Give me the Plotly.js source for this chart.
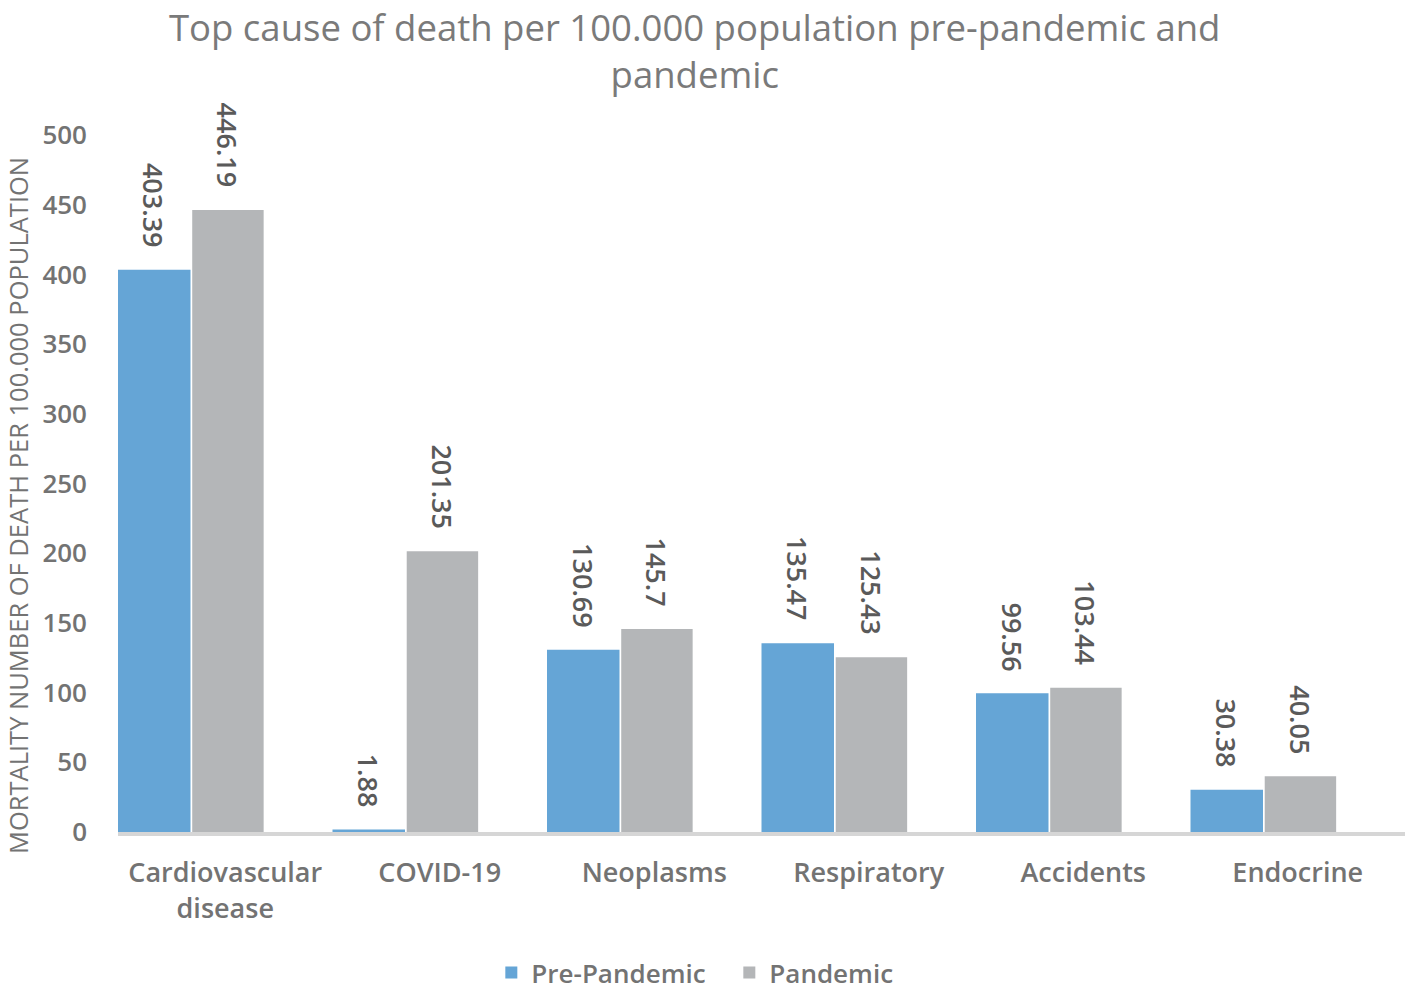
<!DOCTYPE html>
<html>
<head>
<meta charset="utf-8">
<script src="https://cdn.plot.ly/plotly-3.0.1.min.js"></script>
<style>
  html, body { margin: 0; padding: 0; background: #fff; }
  #chart { width: 1408px; height: 996px; }
</style>
</head>
<body>
<div id="chart"></div>
<script>
  // Values
  var categories = ['Cardiovascular<br>disease', 'COVID-19', 'Neoplasms', 'Respiratory', 'Accidents', 'Endocrine'];
  var prePandemic = [403.39, 1.88, 130.69, 135.47, 99.56, 30.38];
  var pandemic = [446.19, 201.35, 145.7, 125.43, 103.44, 40.05];
  var yTicks = [0, 50, 100, 150, 200, 250, 300, 350, 400, 450, 500];

  var FONT = '"Open Sans", Lato, sans-serif';
  var GREY_TEXT = '#737373';

  // Excel-style placement: bars sit in the left two thirds of each category slot
  var SERIES = [
    { name: 'Pre-Pandemic', values: prePandemic, color: '#65a5d6', offset: -0.5, width: 0.338 },
    { name: 'Pandemic', values: pandemic, color: '#b4b6b8', offset: -0.154, width: 0.333 }
  ];

  var traces = SERIES.map(function (s) {
    return {
      type: 'bar',
      name: s.name,
      x: categories,
      y: s.values,
      offset: s.offset,
      width: s.width,
      marker: { color: s.color, line: { width: 0 } },
      hoverinfo: 'skip'
    };
  });

  // Rotated value labels above each bar
  var annotations = [];
  SERIES.forEach(function (s) {
    s.values.forEach(function (v, i) {
      annotations.push({
        x: i + s.offset + s.width / 2,
        y: v,
        xref: 'x',
        yref: 'y',
        text: String(v),
        showarrow: false,
        textangle: 90,
        xanchor: 'center',
        yanchor: 'bottom',
        yshift: 20,
        font: { family: FONT, size: 27, weight: 600, color: '#5a5a5a' }
      });
    });
  });

  // Chart title and y axis title, placed like the reference
  annotations.push({
    xref: 'paper', yref: 'paper',
    x: 0.4483, y: 1.1937,
    xanchor: 'center', yanchor: 'top',
    text: 'Top cause of death per 100.000 population pre-pandemic and<br>pandemic',
    showarrow: false,
    font: { family: FONT, size: 36.5, color: '#7a7a7a' }
  });
  annotations.push({
    xref: 'paper', yref: 'paper',
    x: -0.0777, y: 0.4677,
    xanchor: 'center', yanchor: 'middle',
    text: 'MORTALITY NUMBER OF DEATH PER 100.000 POPULATION',
    textangle: -90,
    showarrow: false,
    font: { family: FONT, size: 25.5, color: GREY_TEXT }
  });

  var layout = {
    width: 1408,
    height: 996,
    paper_bgcolor: '#ffffff',
    plot_bgcolor: '#ffffff',
    font: { family: FONT, color: GREY_TEXT },
    margin: { t: 135, b: 164, l: 118, r: 3 },
    barmode: 'overlay',
    showlegend: true,
    legend: {
      orientation: 'h',
      xref: 'paper',
      x: 0.475,
      xanchor: 'center',
      yref: 'container',
      y: 0,
      yanchor: 'bottom',
      font: { family: FONT, size: 26, weight: 600, color: GREY_TEXT },
      itemwidth: 30,
      entrywidth: 193,
      traceorder: 'normal'
    },
    annotations: annotations,
    xaxis: {
      type: 'category',
      range: [-0.5, 5.5],
      showline: true,
      linecolor: '#d6d6d6',
      linewidth: 4,
      showgrid: false,
      zeroline: false,
      ticks: '',
      tickfont: { family: FONT, size: 27, weight: 600, color: GREY_TEXT },
      ticklabelstandoff: 14
    },
    yaxis: {
      range: [0, 500],
      tickvals: yTicks,
      ticktext: yTicks.map(String),
      showline: false,
      showgrid: false,
      zeroline: false,
      ticks: '',
      ticklabelstandoff: 30,
      tickfont: { family: FONT, size: 26, weight: 600, color: GREY_TEXT }
    }
  };

  Plotly.newPlot('chart', traces, layout, { displayModeBar: false, staticPlot: true });
</script>
</body>
</html>
